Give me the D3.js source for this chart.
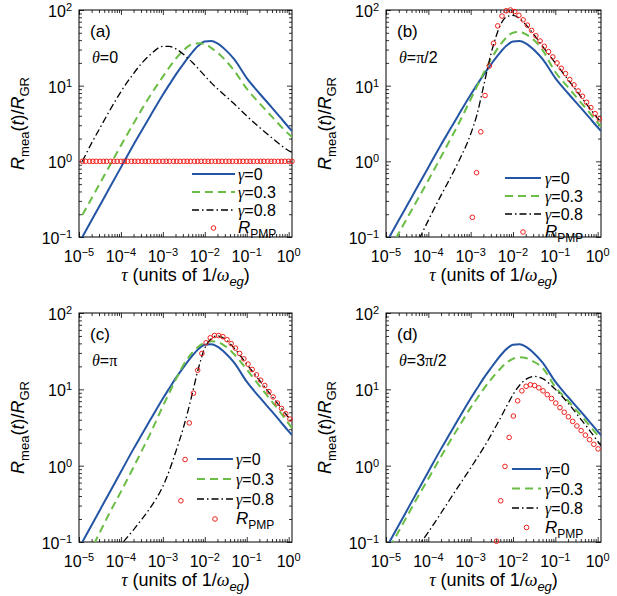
<!DOCTYPE html>
<html>
<head>
<meta charset="utf-8">
<script src="https://cdn.jsdelivr.net/npm/d3@7"></script>
<style>
  body { margin: 0; background: #fff; }
</style>
</head>
<body>
<div id="chart"></div>
<script>
// all values are log10 exponents (tau and R_mea/R_GR)

// tau grid shared by the model curves
const curveTau = [-4.92, -4.7, -4.5, -4.3, -4.0, -3.7, -3.5, -3.3, -3.0, -2.85, -2.7, -2.52, -2.4,
  -2.3, -2.15, -2.0, -1.85, -1.7, -1.5, -1.3, -1.0, -0.7, -0.4, -0.2, 0.0, 0.08];

// gamma = 0 is the same curve in all four panels
const gamma0 = [-1.00, -0.78, -0.58, -0.38, -0.08, 0.22, 0.41, 0.60, 0.88, 1.01, 1.14, 1.28, 1.37,
  1.44, 1.53, 1.585, 1.59, 1.56, 1.47, 1.35, 1.10, 0.90, 0.71, 0.58, 0.45, 0.40];

const aGamma03 = [-0.71, -0.49, -0.29, -0.09, 0.21, 0.50, 0.69, 0.87, 1.12, 1.24, 1.35, 1.46, 1.52,
  1.55, 1.56, 1.55, 1.50, 1.44, 1.33, 1.20, 0.96, 0.77, 0.59, 0.47, 0.36, 0.32];
const aGamma08 = [0.00, 0.24, 0.44, 0.64, 0.92, 1.16, 1.30, 1.41, 1.52, 1.52, 1.49, 1.42, 1.36,
  1.31, 1.22, 1.13, 1.04, 0.96, 0.86, 0.76, 0.60, 0.45, 0.31, 0.22, 0.14, 0.12];

const bGamma03 = [-1.17, -0.95, -0.75, -0.55, -0.25, 0.06, 0.27, 0.48, 0.82, 0.99, 1.16, 1.35, 1.46,
  1.54, 1.64, 1.70, 1.71, 1.68, 1.60, 1.47, 1.18, 0.98, 0.78, 0.65, 0.51, 0.46];
const bGamma08 = [-1.9, -1.6, -1.38, -1.13, -0.78, -0.45, -0.24, -0.02, 0.36, 0.62, 0.98, 1.42, 1.65,
  1.80, 1.91, 1.93, 1.89, 1.81, 1.67, 1.52, 1.30, 1.08, 0.86, 0.71, 0.57, 0.52];

const cGamma03 = [-1.33, -1.09, -0.87, -0.65, -0.34, -0.02, 0.20, 0.42, 0.78, 0.95, 1.12, 1.31, 1.41,
  1.48, 1.56, 1.61, 1.63, 1.62, 1.56, 1.46, 1.26, 1.05, 0.84, 0.70, 0.55, 0.49];
const cGamma08 = [-2.2, -1.8, -1.5, -1.28, -1.04, -0.84, -0.70, -0.55, -0.27, -0.07, 0.17, 0.48, 0.72,
  0.94, 1.28, 1.54, 1.66, 1.70, 1.65, 1.54, 1.33, 1.12, 0.91, 0.77, 0.63, 0.58];

const dGamma03 = [-1.07, -0.86, -0.66, -0.46, -0.17, 0.12, 0.31, 0.49, 0.76, 0.88, 1.00, 1.13, 1.21,
  1.27, 1.35, 1.40, 1.42, 1.41, 1.36, 1.28, 1.03, 0.85, 0.66, 0.53, 0.40, 0.35];
const dGamma08 = [-1.55, -1.40, -1.25, -1.10, -0.87, -0.62, -0.45, -0.28, -0.03, 0.10, 0.23, 0.40, 0.52,
  0.62, 0.78, 0.93, 1.05, 1.13, 1.17, 1.14, 1.00, 0.82, 0.61, 0.47, 0.32, 0.26];

// R_PMP markers
const aPmpTau = [-4.92, -4.84, -4.75, -4.67, -4.59, -4.50, -4.42, -4.34, -4.25, -4.17, -4.09, -4.00,
  -3.92, -3.84, -3.75, -3.67, -3.59, -3.50, -3.42, -3.34, -3.25, -3.17, -3.09, -3.00, -2.92, -2.84,
  -2.75, -2.67, -2.59, -2.50, -2.42, -2.34, -2.25, -2.17, -2.09, -2.00, -1.92, -1.84, -1.75, -1.67,
  -1.59, -1.50, -1.42, -1.34, -1.25, -1.17, -1.09, -1.00, -0.92, -0.84, -0.75, -0.67, -0.59, -0.50,
  -0.42, -0.34, -0.25, -0.17, -0.09, 0.00, 0.08];
const aPmpR = [0, 0, 0, 0, 0, 0, 0, 0, 0, 0, 0, 0, 0, 0, 0, 0, 0, 0, 0, 0, 0, 0, 0, 0, 0, 0, 0, 0, 0, 0,
  0, 0, 0, 0, 0, 0, 0, 0, 0, 0, 0, 0, 0, 0, 0, 0, 0, 0, 0, 0, 0, 0, 0, 0, 0, 0, 0, 0, 0, 0, 0];

const bPmpTau = [-2.96, -2.86, -2.76, -2.66, -2.56, -2.46, -2.36, -2.26, -2.16, -2.06, -1.96, -1.86,
  -1.76, -1.66, -1.56, -1.46, -1.36, -1.26, -1.16, -1.06, -0.96, -0.86, -0.76, -0.66, -0.56, -0.46,
  -0.36, -0.26, -0.16, -0.06, 0.04];
const bPmpR = [-0.74, -0.15, 0.39, 0.87, 1.26, 1.56, 1.79, 1.92, 1.99, 2.00, 1.98, 1.93, 1.87, 1.80,
  1.73, 1.66, 1.59, 1.52, 1.45, 1.38, 1.30, 1.23, 1.16, 1.08, 1.01, 0.93, 0.86, 0.78, 0.71, 0.63, 0.56];

const cPmpTau = [-2.57, -2.47, -2.37, -2.27, -2.17, -2.07, -1.97, -1.87, -1.77, -1.67, -1.57, -1.47,
  -1.37, -1.27, -1.17, -1.07, -0.97, -0.87, -0.77, -0.67, -0.57, -0.47, -0.37, -0.27, -0.17, -0.07, 0.03];
const cPmpR = [-0.46, 0.08, 0.56, 0.95, 1.25, 1.47, 1.61, 1.675, 1.705, 1.705, 1.69, 1.65, 1.60, 1.54,
  1.47, 1.40, 1.33, 1.26, 1.19, 1.12, 1.05, 0.97, 0.90, 0.82, 0.75, 0.68, 0.61];

const dPmpTau = [-2.39, -2.29, -2.19, -2.09, -1.99, -1.89, -1.79, -1.69, -1.59, -1.49, -1.39, -1.29,
  -1.19, -1.09, -0.99, -0.89, -0.79, -0.69, -0.59, -0.49, -0.39, -0.29, -0.19, -0.09, 0.01];
const dPmpR = [-0.99, -0.46, -0.01, 0.37, 0.65, 0.85, 0.98, 1.04, 1.06, 1.05, 1.02, 0.98, 0.93, 0.88,
  0.82, 0.76, 0.70, 0.64, 0.58, 0.52, 0.46, 0.40, 0.34, 0.28, 0.22];

// axes
const xTickExp = [-5, -4, -3, -2, -1, 0];
const yTickExp = [-1, 0, 1, 2];
const xDomain = [1e-5, 1.2];
const yDomain = [0.1, 100];
const legendLabels = ["0", "0.3", "0.8"];

const sans = '"Liberation Sans", Arial, Helvetica, sans-serif';
const serif = '"Liberation Serif", "Times New Roman", serif';

const panels = [
  { tag: "(a)", theta: [{ t: "=0" }], x0: 79, x1: 292, y0: 10, y1: 237,
    g03: aGamma03, g08: aGamma08, pmpTau: aPmpTau, pmpR: aPmpR,
    leg: { lx0: 113, lx1: 156, tx: 159, y: 164, dy: 18 } },
  { tag: "(b)", theta: [{ t: "=" }, { t: "\u03c0", serif: true }, { t: "/2" }], x0: 386, x1: 601, y0: 10, y1: 237,
    g03: bGamma03, g08: bGamma08, pmpTau: bPmpTau, pmpR: bPmpR,
    leg: { lx0: 119, lx1: 155, tx: 159, y: 168, dy: 18 } },
  { tag: "(c)", theta: [{ t: "=" }, { t: "\u03c0", serif: true }], x0: 79, x1: 292, y0: 313, y1: 542,
    g03: cGamma03, g08: cGamma08, pmpTau: cPmpTau, pmpR: cPmpR,
    leg: { lx0: 118, lx1: 154, tx: 157, y: 146, dy: 20 } },
  { tag: "(d)", theta: [{ t: "=3" }, { t: "\u03c0", serif: true }, { t: "/2" }], x0: 386, x1: 601, y0: 313, y1: 542,
    g03: dGamma03, g08: dGamma08, pmpTau: dPmpTau, pmpR: dPmpR,
    leg: { lx0: 126, lx1: 155, tx: 159, y: 156, dy: 19.5 } }
];

const styles = [
  { color: "#2455a5", width: 2, dash: null },
  { color: "#6abd45", width: 2, dash: "8,5" },
  { color: "#000000", width: 1.3, dash: "7,3,1.5,3" }
];
const pmpColor = "#f0201c";

const svg = d3.select("#chart").append("svg")
  .attr("width", 617)
  .attr("height", 596)
  .style("font-family", sans);

// text with italic / sub / superscript pieces
function rich(text, parts, size) {
  let shift = 0;
  parts.forEach(p => {
    const small = p.sub || p.sup;
    const target = p.sub ? Math.round(size * 0.3) : p.sup ? -Math.round(size * 0.38) : 0;
    text.append("tspan")
      .attr("dy", target - shift)
      .attr("font-size", small ? Math.round(size * 0.7) : size)
      .attr("font-style", p.it ? "italic" : "normal")
      .attr("font-family", p.serif ? serif : sans)
      .text(p.t);
    shift = target;
  });
}

const expText = e => (e < 0 ? "\u2212" + (-e) : String(e));

function minorTicks(exps, max) {
  const out = [];
  exps.forEach(e => {
    for (let m = 2; m <= 9; m++) {
      const v = m * Math.pow(10, e);
      if (v <= max) out.push(v);
    }
  });
  return out;
}
const xMinor = minorTicks(xTickExp, xDomain[1]);
const yMinor = minorTicks(yTickExp.slice(0, -1), yDomain[1]);

panels.forEach(p => {
  const x = d3.scaleLog().domain(xDomain).range([p.x0, p.x1]);
  const y = d3.scaleLog().domain(yDomain).range([p.y1, p.y0]);
  const g = svg.append("g");
  const clipId = "clip" + p.tag.replace(/[()]/g, "");

  g.append("clipPath").attr("id", clipId)
    .append("rect")
    .attr("x", p.x0).attr("y", p.y0)
    .attr("width", p.x1 - p.x0).attr("height", p.y1 - p.y0);

  // ticks pointing inward on all four sides
  const sides = [
    [d3.axisBottom(x), `translate(0,${p.y1})`, true],
    [d3.axisTop(x), `translate(0,${p.y0})`, true],
    [d3.axisLeft(y), `translate(${p.x0},0)`, false],
    [d3.axisRight(y), `translate(${p.x1},0)`, false]
  ];
  sides.forEach(([ax, tr, isX]) => {
    const major = (isX ? xTickExp : yTickExp).map(e => Math.pow(10, e));
    [[major, 5], [isX ? xMinor : yMinor, 3]].forEach(([vals, len]) => {
      g.append("g")
        .attr("transform", tr)
        .attr("color", "#000")
        .call(ax.tickValues(vals).tickSize(-len).tickFormat(""))
        .call(s => s.select(".domain").remove())
        .call(s => s.selectAll("text").remove())
        .selectAll("line").attr("stroke-width", 0.8);
    });
  });

  g.append("rect")
    .attr("x", p.x0).attr("y", p.y0)
    .attr("width", p.x1 - p.x0).attr("height", p.y1 - p.y0)
    .attr("fill", "none").attr("stroke", "#000").attr("stroke-width", 1);

  // tick labels
  xTickExp.forEach(e => {
    const t = g.append("text")
      .attr("x", x(Math.pow(10, e)))
      .attr("y", p.y1 + 25)
      .attr("text-anchor", "middle");
    rich(t, [{ t: "10" }, { t: expText(e), sup: true }], 16);
  });
  yTickExp.forEach(e => {
    const t = g.append("text")
      .attr("x", p.x0 - 7)
      .attr("y", y(Math.pow(10, e)) + 7)
      .attr("text-anchor", "end");
    rich(t, [{ t: "10" }, { t: expText(e), sup: true }], 16);
  });

  // axis titles
  const xl = g.append("text")
    .attr("x", (p.x0 + p.x1) / 2)
    .attr("y", p.y1 + 44)
    .attr("text-anchor", "middle");
  rich(xl, [{ t: "\u03c4", it: true, serif: true }, { t: " (units of 1/" },
    { t: "\u03c9", it: true, serif: true }, { t: "eg", sub: true, it: true }, { t: ")" }], 18);

  const yl = g.append("text")
    .attr("transform", `translate(${p.x0 - 55},${(p.y0 + p.y1) / 2}) rotate(-90)`)
    .attr("text-anchor", "middle");
  rich(yl, [{ t: "R", it: true }, { t: "mea", sub: true }, { t: "(" }, { t: "t", it: true },
    { t: ")/" }, { t: "R", it: true }, { t: "GR", sub: true }], 18);

  // panel tag and theta
  g.append("text").attr("x", p.x0 + 11).attr("y", p.y0 + 27)
    .attr("font-size", 17).text(p.tag);
  const th = g.append("text").attr("x", p.x0 + 13).attr("y", p.y0 + 53);
  rich(th, [{ t: "\u03b8", it: true, serif: true }].concat(p.theta), 16);

  // curves
  const line = d3.line()
    .x(d => x(Math.pow(10, d[0])))
    .y(d => y(Math.pow(10, d[1])))
    .curve(d3.curveMonotoneX);

  const plot = g.append("g").attr("clip-path", `url(#${clipId})`);
  [gamma0, p.g03, p.g08].forEach((vals, k) => {
    plot.append("path")
      .datum(curveTau.map((t, i) => [t, vals[i]]))
      .attr("fill", "none")
      .attr("stroke", styles[k].color)
      .attr("stroke-width", styles[k].width)
      .attr("stroke-dasharray", styles[k].dash)
      .attr("d", line);
  });

  g.append("g").selectAll("circle")
    .data(p.pmpTau.map((t, i) => [t, p.pmpR[i]]))
    .join("circle")
    .attr("cx", d => x(Math.pow(10, d[0])))
    .attr("cy", d => y(Math.pow(10, d[1])))
    .attr("r", 2.3)
    .attr("fill", "none")
    .attr("stroke", pmpColor)
    .attr("stroke-width", 1);

  // legend
  const L = p.leg;
  legendLabels.forEach((lab, k) => {
    const ry = p.y0 + L.y + k * L.dy;
    g.append("line")
      .attr("x1", p.x0 + L.lx0).attr("x2", p.x0 + L.lx1)
      .attr("y1", ry).attr("y2", ry)
      .attr("stroke", styles[k].color)
      .attr("stroke-width", styles[k].width)
      .attr("stroke-dasharray", styles[k].dash);
    const t = g.append("text").attr("x", p.x0 + L.tx).attr("y", ry + 6);
    rich(t, [{ t: "\u03b3", it: true, serif: true }, { t: "=" + lab }], 16);
  });
  const ry = p.y0 + L.y + 3 * L.dy;
  g.append("circle")
    .attr("cx", p.x0 + (L.lx0 + L.lx1) / 2).attr("cy", ry)
    .attr("r", 2.3).attr("fill", "none")
    .attr("stroke", pmpColor).attr("stroke-width", 1);
  const rt = g.append("text").attr("x", p.x0 + L.tx).attr("y", ry + 5);
  rich(rt, [{ t: "R", it: true }, { t: "PMP", sub: true }], 17);
});
</script>
</body>
</html>
